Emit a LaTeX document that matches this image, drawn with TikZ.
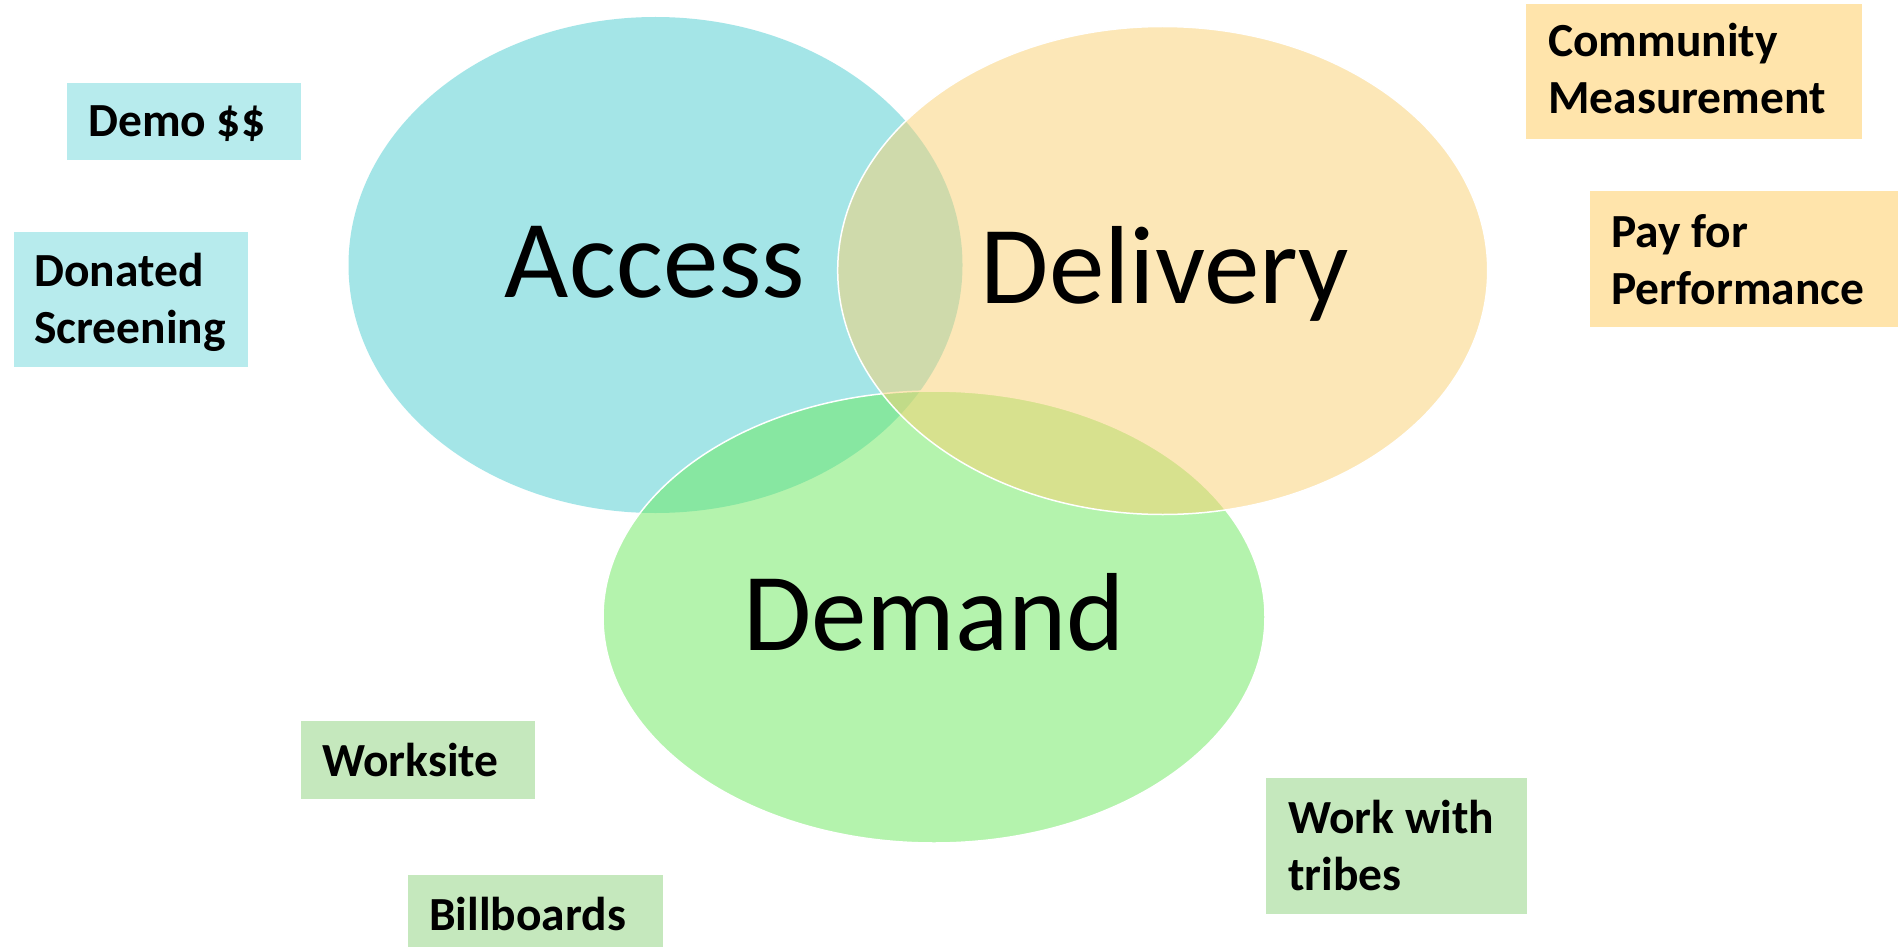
\documentclass[tikz,border=0pt]{standalone}
\usepackage{fontspec}
\setmainfont{Carlito}
\usetikzlibrary{shapes.geometric}

\definecolor{accessfill}{RGB}{75,205,209}
\definecolor{deliveryfill}{RGB}{251,209,113}
\definecolor{demandfill}{RGB}{107,233,93}
\definecolor{cyanbox}{RGB}{183,235,237}
\definecolor{orangebox}{RGB}{255,228,171}
\definecolor{greenbox}{RGB}{197,232,189}

\tikzset{
  circlearea/.style={ellipse, inner sep=0pt, fill opacity=0.5, draw opacity=1},
  biglabel/.style={anchor=base, inner sep=0pt, font=\fontsize{111}{133}\selectfont},
  tagbox/.style={rectangle, inner sep=0pt, anchor=north west},
  tagtext/.style={anchor=base west, inner sep=0pt, font=\fontsize{47.5}{57}\selectfont\bfseries}
}

\newcommand{\taglines}[1]{\begin{tabular}[t]{@{}l@{}}#1\end{tabular}}

\begin{document}
\begin{tikzpicture}[x=1pt, y=-1pt]
  \useasboundingbox (0,0) rectangle (1898,947);
  \fill[white] (0,0) rectangle (1898,947);

  % the three overlapping areas
  \node[circlearea, fill=accessfill, minimum width=614pt, minimum height=496pt] (access) at (655.5,265) {};
  \node[circlearea, fill=demandfill, draw=white, line width=1.5pt, minimum width=662pt, minimum height=452pt] (demand) at (934,617) {};
  \node[circlearea, fill=deliveryfill, draw=white, line width=1.5pt, minimum width=650pt, minimum height=488pt] (delivery) at (1162.7,270.5) {};

  \node[biglabel] (accesslbl) at (655,297) {Access};
  \node[biglabel] (deliverylbl) at (1165,303) {Delivery};
  \node[biglabel] (demandlbl) at (934,650) {Demand};

  % tags around the diagram
  \node[tagbox, fill=cyanbox, minimum width=234pt, minimum height=77pt] (demoBox) at (67,83) {};
  \node[tagtext] (demo) at (88,137) {Demo \$\$};

  \node[tagbox, fill=cyanbox, minimum width=234pt, minimum height=135pt] (donatedBox) at (14,232) {};
  \node[tagtext] (donated) at (34,286) {\taglines{Donated\\Screening}};

  \node[tagbox, fill=orangebox, minimum width=336pt, minimum height=135pt] (communityBox) at (1526,4) {};
  \node[tagtext] (community) at (1548,57) {\taglines{Community\\Measurement}};

  \node[tagbox, fill=orangebox, minimum width=308pt, minimum height=136pt] (payBox) at (1590,191) {};
  \node[tagtext] (pay) at (1611,247) {\taglines{Pay for\\Performance}};

  \node[tagbox, fill=greenbox, minimum width=234pt, minimum height=78pt] (worksiteBox) at (301,721) {};
  \node[tagtext] (worksite) at (322,776) {Worksite};

  \node[tagbox, fill=greenbox, minimum width=255pt, minimum height=72pt] (billboardsBox) at (408,875) {};
  \node[tagtext] (billboards) at (429,930) {Billboards};

  \node[tagbox, fill=greenbox, minimum width=261pt, minimum height=136pt] (tribesBox) at (1266,778) {};
  \node[tagtext] (tribes) at (1288,833) {\taglines{Work with\\tribes}};
\end{tikzpicture}
\end{document}
